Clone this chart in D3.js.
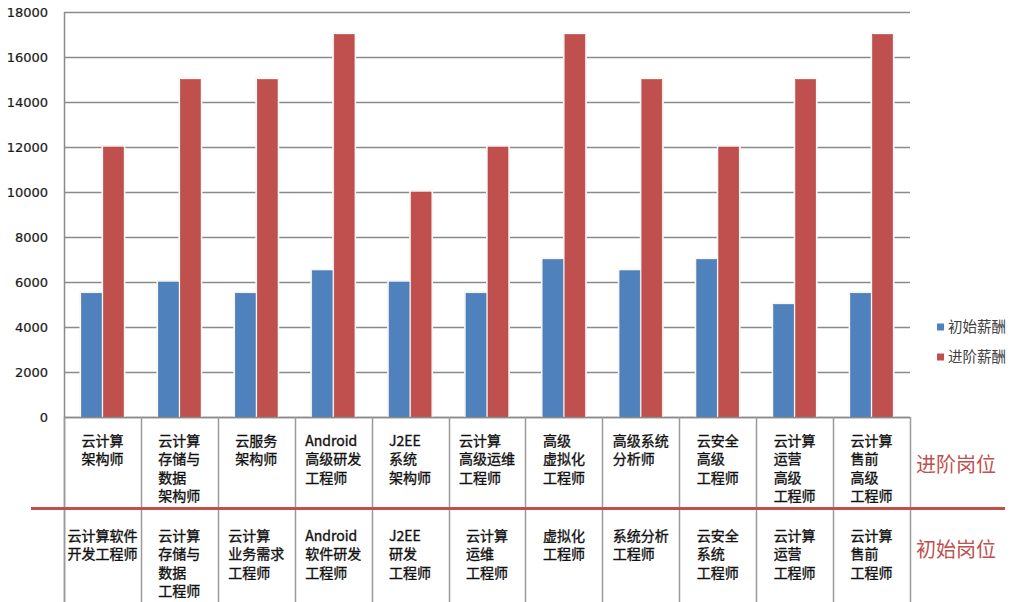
<!DOCTYPE html>
<html><head><meta charset="utf-8">
<script src="https://cdn.jsdelivr.net/npm/d3@7/dist/d3.min.js"></script>
<style>
body{margin:0;background:#fff;}
svg{display:block;}
</style></head>
<body>
<svg id="chart" width="1024" height="602"></svg>
<script>
// ---- data ----
const advancedRoles = [
  ["云计算","架构师"],
  ["云计算","存储与","数据","架构师"],
  ["云服务","架构师"],
  ["Android","高级研发","工程师"],
  ["J2EE","系统","架构师"],
  ["云计算","高级运维","工程师"],
  ["高级","虚拟化","工程师"],
  ["高级系统","分析师"],
  ["云安全","高级","工程师"],
  ["云计算","运营","高级","工程师"],
  ["云计算","售前","高级","工程师"]
];
const initialRoles = [
  ["云计算软件","开发工程师"],
  ["云计算","存储与","数据","工程师"],
  ["云计算","业务需求","工程师"],
  ["Android","软件研发","工程师"],
  ["J2EE","研发","工程师"],
  ["云计算","运维","工程师"],
  ["虚拟化","工程师"],
  ["系统分析","工程师"],
  ["云安全","系统","工程师"],
  ["云计算","运营","工程师"],
  ["云计算","售前","工程师"]
];
const initialSalary  = [5500, 6000, 5500, 6500, 6000, 5500, 7000, 6500, 7000, 5000, 5500];
const advancedSalary = [12000, 15000, 15000, 17000, 10000, 12000, 17000, 15000, 12000, 15000, 17000];
const yTicks = [0, 2000, 4000, 6000, 8000, 10000, 12000, 14000, 16000, 18000];
const seriesNames = ["初始薪酬", "进阶薪酬"];
const rowNames = ["进阶岗位", "初始岗位"];

(function(){
// ---- layout ----
const svg = d3.select("#chart");
const pLeft = 64, pRight = 910, pTop = 12, pBase = 417, pBottom = 602;
const colors = ["#4f81bd", "#c0504d"];
const gridColor = "#8a8a8a";
const idx = d3.range(advancedRoles.length);

const x = d3.scaleBand().domain(idx).range([pLeft, pRight]).paddingInner(0).paddingOuter(0);
const y = d3.scaleLinear().domain([0, 18000]).range([pBase, pTop]);
const barW = 20, barGap = 2;
const xs = d3.scaleBand().domain([0,1]).range([0, barW*2+barGap]).paddingInner(barGap/(barW+barGap));

// gridlines
svg.append("g").selectAll("line").data(yTicks).join("line")
  .attr("x1", pLeft).attr("x2", pRight)
  .attr("y1", d => Math.round(y(d)) + 0.5).attr("y2", d => Math.round(y(d)) + 0.5)
  .attr("stroke", gridColor).attr("stroke-width", 1.3);

// y labels via axis
const yAxis = d3.axisLeft(y).tickValues(yTicks).tickSize(0).tickPadding(0).tickFormat(d3.format("d"));
const ya = svg.append("g").attr("transform", `translate(48,0)`).call(yAxis);
ya.select(".domain").remove();
ya.selectAll("text").attr("font-family", "DejaVu Sans, Verdana, sans-serif")
  .attr("font-size", 13).attr("fill", "#1a1a1a").attr("stroke", "#1a1a1a").attr("stroke-width", 0.2)
  .attr("dy", "0.35em").attr("x", 0);

// bars
const series = [initialSalary, advancedSalary];
const groupStart = i => x(i) + x.bandwidth()/2 - (barW*2+barGap)/2;
series.forEach((vals, s) => {
  const g = svg.append("g");
  g.selectAll("rect.halo").data(vals).join("rect").attr("class","halo")
    .attr("x", (d,i) => groupStart(i) + xs(s) - 2)
    .attr("y", d => y(d) - 2)
    .attr("width", xs.bandwidth() + 4)
    .attr("height", d => pBase - y(d) + 2)
    .attr("fill", "#f4f4f4");
  g.selectAll("rect.halo2").data(vals).join("rect").attr("class","halo2")
    .attr("x", (d,i) => groupStart(i) + xs(s) - 1)
    .attr("y", d => y(d) - 1)
    .attr("width", xs.bandwidth() + 2)
    .attr("height", d => pBase - y(d) + 1)
    .attr("fill", "#ffffff");
});
series.forEach((vals, s) => {
  svg.append("g").selectAll("rect").data(vals).join("rect")
    .attr("x", (d,i) => groupStart(i) + xs(s))
    .attr("y", d => y(d))
    .attr("width", xs.bandwidth())
    .attr("height", d => pBase - y(d))
    .attr("fill", colors[s])
    .attr("stroke", d3.color(colors[s]).darker(0.3))
    .attr("stroke-width", 0.6);
});

// axes lines
svg.append("line").attr("x1", pLeft+0.5).attr("x2", pLeft+0.5).attr("y1", pTop).attr("y2", pBottom)
  .attr("stroke", gridColor).attr("stroke-width", 1.5);
svg.append("line").attr("x1", pLeft).attr("x2", pRight).attr("y1", pBase+0.5).attr("y2", pBase+0.5)
  .attr("stroke", gridColor).attr("stroke-width", 1.5);

// table dividers
svg.append("g").selectAll("line").data(idx.concat([idx.length])).join("line")
  .attr("x1", d => Math.round(d < idx.length ? x(d) : pRight) + 0.5)
  .attr("x2", d => Math.round(d < idx.length ? x(d) : pRight) + 0.5)
  .attr("y1", pBase).attr("y2", pBottom)
  .attr("stroke", "#9a9a9a").attr("stroke-width", 1.5);

// red separator
svg.append("line").attr("x1", 31).attr("x2", 1005).attr("y1", 508.5).attr("y2", 508.5)
  .attr("stroke", "#c0504d").attr("stroke-width", 3);

// cell labels
function drawRow(rows, firstY) {
  rows.forEach((lines, i) => {
    const t = svg.append("text")
      .attr("font-family", "'Noto Sans CJK SC', sans-serif")
      .attr("font-size", 14).attr("fill", "#111")
      .attr("stroke", "#111").attr("stroke-width", 0.35);
    lines.forEach((ln, k) => {
      t.append("tspan").attr("x", 0).attr("y", firstY + k*18.5).attr("dy", "0.35em").text(ln);
    });
    let maxW = 0;
    t.selectAll("tspan").each(function(){ maxW = Math.max(maxW, this.getComputedTextLength()); });
    const sx = x(i) + x.bandwidth()/2 - maxW/2;
    t.selectAll("tspan").attr("x", sx);
  });
}
drawRow(advancedRoles, 441);
drawRow(initialRoles, 536);

// row names
svg.selectAll("text.row").data(rowNames).join("text").attr("class","row")
  .attr("x", 916).attr("y", (d,i) => i === 0 ? 465 : 550).attr("dy", "0.35em")
  .attr("font-family", "'Noto Sans CJK SC', sans-serif").attr("font-size", 20)
  .attr("fill", "#c0504d").text(d => d);

// legend
const lg = svg.append("g");
seriesNames.forEach((n, s) => {
  const cy = s === 0 ? 327 : 357;
  lg.append("rect").attr("x", 937).attr("y", cy - 3.5).attr("width", 7).attr("height", 7).attr("fill", colors[s]);
  lg.append("text").attr("x", 948).attr("y", cy).attr("dy", "0.35em")
    .attr("font-family", "'Noto Sans CJK SC', sans-serif").attr("font-size", 14.5)
    .attr("fill", "#404040").text(n);
});
})();
</script>
</body></html>
